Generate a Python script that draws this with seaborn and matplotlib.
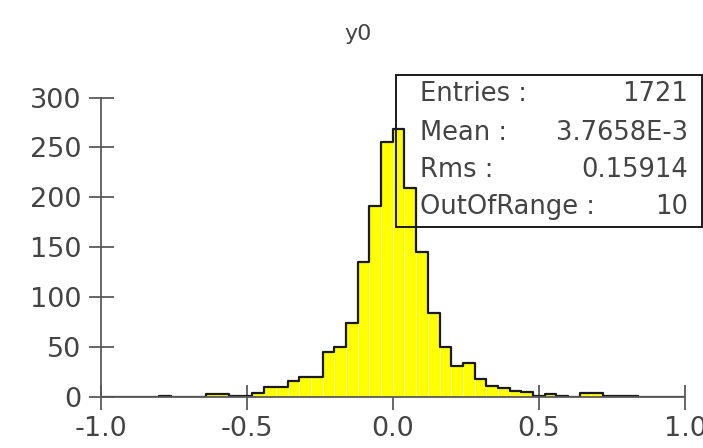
import numpy as np
import pandas as pd
import matplotlib.pyplot as plt
import seaborn as sns

sns.set_style("white")
plt.rcParams['font.family'] = ['DejaVu Sans']
plt.rcParams['axes.unicode_minus'] = False

# histogram of y0: 50 bins on [-1, 1]
bin_lo = -1.0
bin_hi = 1.0
n_bins = 50
counts = [0, 0, 0, 0, 0, 1, 0, 0, 0, 3,
          3, 1, 1, 4, 10, 10, 16, 20, 20, 45,
          50, 74, 135, 191, 255, 268, 209, 145, 84, 50,
          31, 34, 18, 11, 9, 6, 5, 1, 3, 1,
          0, 4, 4, 1, 1, 1, 0, 0, 0, 0]

x_ticks = [-1.0, -0.5, 0.0, 0.5, 1.0]
x_ticklabels = ['-1.0', '-0.5', '0.0', '0.5', '1.0']
y_ticks = [0, 50, 100, 150, 200, 250, 300]

stat_names = ['Entries :', 'Mean :', 'Rms :', 'OutOfRange :']
stat_values = ['1721', '3.7658E-3', '0.15914', '10']

edges = np.linspace(bin_lo, bin_hi, n_bins + 1)
centers = (edges[:-1] + edges[1:]) / 2
df = pd.DataFrame({'y0': centers, 'n': counts})

text_col = '#444444'
axis_col = '#5a5a5a'

fig = plt.figure(figsize=(7.03, 4.48), dpi=100)
ax = fig.add_axes([0.143, 0.1138, 0.8314, 0.6685])

# yellow bars with faint bin separators
sns.histplot(data=df, x='y0', weights='n', bins=n_bins, binrange=(bin_lo, bin_hi),
             element='bars', color='#ffff00', edgecolor='#ffff90', linewidth=0.6,
             alpha=1, ax=ax)
# black step outline
sns.histplot(data=df, x='y0', weights='n', bins=n_bins, binrange=(bin_lo, bin_hi),
             element='step', fill=False, color='#1a1a1a', linewidth=1.6, ax=ax)

ax.set_xlim(bin_lo, bin_hi)
ax.set_ylim(0, 300)
ax.set_xlabel('')
ax.set_ylabel('')
ax.set_xticks(x_ticks)
ax.set_xticklabels(x_ticklabels)
ax.set_yticks(y_ticks)

for side in ['top', 'right']:
    ax.spines[side].set_visible(False)
for side in ['left', 'bottom']:
    ax.spines[side].set_color(axis_col)
    ax.spines[side].set_linewidth(1.3)

ax.tick_params(axis='both', bottom=True, left=True, direction='inout', length=18,
               width=1.3, color=axis_col, labelsize=19.5, labelcolor=text_col, pad=5)

fig.text(0.509, 0.925, 'y0', ha='center', va='center', fontsize=16, color=text_col)

# statistics box
box = plt.Rectangle((0.564, 0.4933), 0.434, 0.3393, transform=fig.transFigure,
                    fill=False, edgecolor='#1a1a1a', linewidth=1.4)
fig.add_artist(box)
row_y = [0.790, 0.704, 0.620, 0.537]
for name, val, yy in zip(stat_names, stat_values, row_y):
    fig.text(0.597, yy, name, ha='left', va='center', fontsize=18.5, color=text_col)
    fig.text(0.979, yy, val, ha='right', va='center', fontsize=18.5, color=text_col)

fig.savefig('out.png', dpi=100)
